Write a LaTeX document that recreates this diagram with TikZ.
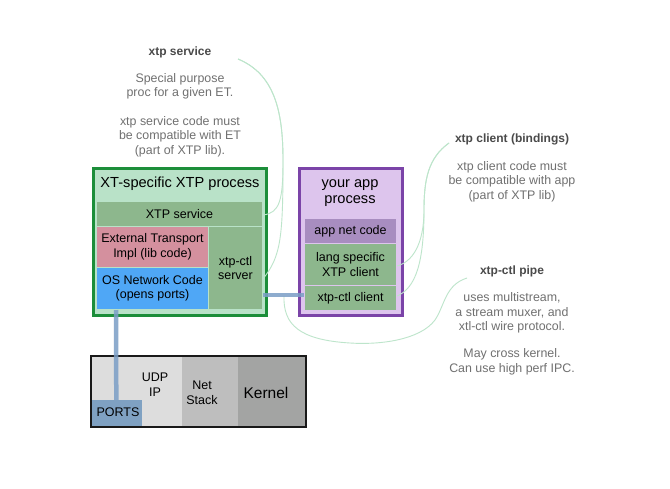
\documentclass[tikz,border=0pt]{standalone}
\usepackage{fontspec}
\setmainfont{Liberation Sans}
\usetikzlibrary{calc}
\definecolor{xtgreen}{HTML}{1C8E3A}
\definecolor{xtlight}{HTML}{B9E2C8}
\definecolor{midgreen}{HTML}{8DB78D}
\definecolor{pinkbox}{HTML}{D4909E}
\definecolor{bluebox}{HTML}{4FA7F6}
\definecolor{appborder}{HTML}{7B44A8}
\definecolor{applight}{HTML}{DDC5ED}
\definecolor{appnet}{HTML}{A88DC0}
\definecolor{kone}{HTML}{DDDDDD}
\definecolor{ktwo}{HTML}{BEBEBE}
\definecolor{kthree}{HTML}{A3A4A3}
\definecolor{portc}{HTML}{7FA1C2}
\definecolor{pipec}{HTML}{7B9EC6}
\definecolor{curvec}{HTML}{BDE5CB}
\definecolor{notegray}{HTML}{707070}
\definecolor{headgray}{HTML}{4A4A4A}
\tikzset{
  box/.style={draw=#1, line width=1pt, inner sep=0pt, align=center, text=black,
              font=\fontsize{12.5}{14.5}\selectfont},
  outerbox/.style={draw=#1, line width=3pt, inner sep=0pt},
  plain/.style={inner sep=0pt, align=center, text=black, font=\fontsize{12.5}{15}\selectfont},
  titletext/.style={inner sep=0pt, align=center, text=black, font=\fontsize{14.6}{16}\selectfont},
  notehead/.style={inner sep=0pt, align=center, text=headgray, font=\fontsize{12}{14.5}\selectfont\bfseries},
  notebody/.style={inner sep=0pt, align=center, text=notegray, font=\fontsize{12.4}{14.5}\selectfont},
  pipe/.style={draw=pipec, line width=4.5pt, opacity=0.85},
  callout/.style={draw=curvec, line width=0.9pt},
}
\begin{document}
\begin{tikzpicture}[x=1pt,y=-1pt]
\useasboundingbox[fill=white] (0,0) rectangle (670,488);

% ---------- XT-specific process ----------
\node[outerbox=xtgreen, fill=xtlight, minimum width=173pt, minimum height=147pt] (xtproc) at (179.5,241.5) {};
\node[titletext] (xttitle) at (180,184) {XT-specific XTP process};
\node[box=xtlight, fill=midgreen, minimum width=166pt, minimum height=25pt] (svc) at (179.5,214) {XTP service};
\node[box=xtlight, fill=pinkbox, minimum width=112pt, minimum height=41pt] (ext) at (152.5,247) {External Transport\\Impl (lib code)};
\node[box=xtlight, fill=bluebox, minimum width=112pt, minimum height=42pt] (osnet) at (152.5,288.5) {OS Network Code\\(opens ports)};
\node[box=xtlight, fill=midgreen, minimum width=54pt, minimum height=83pt] (ctlserver) at (235.5,268) {xtp-ctl\\server};

% ---------- app process ----------
\node[outerbox=appborder, fill=applight, minimum width=103pt, minimum height=147pt] (app) at (351,241.5) {};
\node[titletext] (apptitle) at (350,193) {your app\\process};
\node[box=applight, fill=appnet, minimum width=92pt, minimum height=25pt] (appnet) at (350.5,231) {app net code};
\node[box=applight, fill=midgreen, minimum width=92pt, minimum height=42pt] (lang) at (350.5,264.5) {lang specific\\XTP client};
\node[box=applight, fill=midgreen, minimum width=92pt, minimum height=25pt] (ctlclient) at (350.5,298) {xtp-ctl client};

% ---------- kernel ----------
\node[fill=kone, inner sep=0pt, minimum width=91pt, minimum height=71pt] (kudp) at (136.5,391.5) {};
\node[fill=ktwo, inner sep=0pt, minimum width=56pt, minimum height=71pt] (knet) at (210,391.5) {};
\node[fill=kthree, inner sep=0pt, minimum width=68pt, minimum height=71pt] (kker) at (272,391.5) {};
\node[fill=portc, inner sep=0pt, minimum width=51pt, minimum height=27pt] (ports) at (116.5,413.5) {};
\node[draw=black!90, line width=2.7pt, inner sep=0pt, minimum width=215pt, minimum height=71pt] (kernel) at (198.5,391.5) {};
\node[plain] (udptext) at (155,384.5) {UDP\\IP};
\node[plain] (nettext) at (202,392.5) {Net\\Stack};
\node[plain, font=\fontsize{15.5}{17}\selectfont] (kertext) at (266,392.5) {Kernel};
\node[plain] (porttext) at (118,412.5) {PORTS};

% ---------- notes ----------
\node[notehead] (n1h) at (180,52) {xtp service};
\node[notebody] (n1a) at (180,86.5) {Special purpose\\proc for a given ET.};
\node[notebody] (n1b) at (180,136.5) {xtp service code must\\be compatible with ET\\(part of XTP lib).};
\node[notehead] (n2h) at (512,139) {xtp client (bindings)};
\node[notebody] (n2a) at (512,181.5) {xtp client code must\\be compatible with app\\(part of XTP lib)};
\node[notehead] (n3h) at (512,271) {xtp-ctl pipe};
\node[notebody] (n3a) at (512,313) {uses multistream,\\a stream muxer, and\\xtl-ctl wire protocol.};
\node[notebody] (n3b) at (512,362) {May cross kernel.\\Can use high perf IPC.};

% ---------- callout curves ----------
\coordinate (c1) at (238,59);
\coordinate (c2) at (449,143);
\coordinate (c3) at (467,278);
\coordinate (pipemid) at (284,296);
\draw[callout] (c1) .. controls (274,74) and (283,110) .. (283,160)
   .. controls (283,200) and (280,213) .. ([yshift=-1pt]svc.east);
\draw[callout] (c1) .. controls (274,74) and (283,110) .. (283,160)
   .. controls (283,238) and (281,256) .. ([yshift=-11pt]ctlserver.east);
\draw[callout] (c2) .. controls (428,158) and (424,180) .. (424,210)
   .. controls (424,245) and (412,262) .. ([yshift=-1.5pt]lang.east);
\draw[callout] (c2) .. controls (428,158) and (424,180) .. (424,210)
   .. controls (424,262) and (416,288) .. ([yshift=2pt]ctlclient.east);
\draw[callout] (c3) .. controls (445,285) and (445,305) .. (435,320)
   .. controls (420,340) and (380,345) .. (350,343)
   .. controls (300,340) and (283,325) .. (pipemid);

% ---------- pipes ----------
\draw[pipe] ([yshift=3pt]ctlserver.east |- ctlclient.west) -- ([yshift=3pt]ctlclient.west);
\draw[pipe] ([xshift=20pt]osnet.south west) -- ([xshift=25.5pt]ports.north west);
\end{tikzpicture}
\end{document}
